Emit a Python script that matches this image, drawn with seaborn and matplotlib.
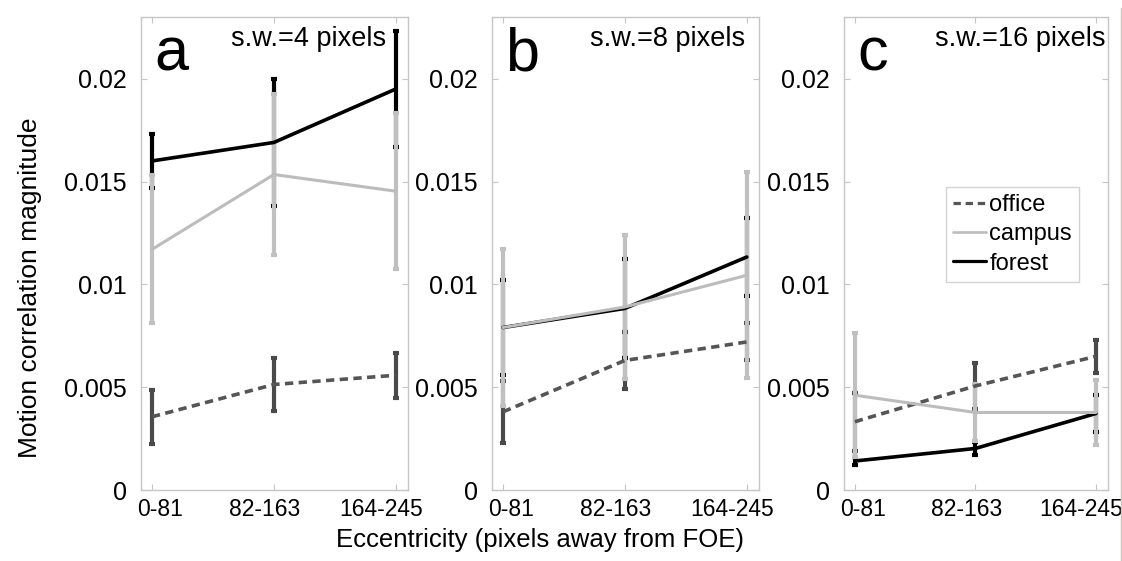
import numpy as np
import pandas as pd
import matplotlib
matplotlib.use("Agg")
import matplotlib.pyplot as plt
from matplotlib.lines import Line2D
from matplotlib.transforms import ScaledTranslation
import seaborn as sns

# ---------------- data ----------------
ecc_labels = ["0-81", "82-163", "164-245"]
panel_letters = ["a", "b", "c"]
panel_titles = ["s.w.=4 pixels", "s.w.=8 pixels", "s.w.=16 pixels"]
scenes = ["office", "campus", "forest"]

office_mean = [[0.00356, 0.00513, 0.00558], [0.0038, 0.0063, 0.0072], [0.00332, 0.00506, 0.0065]]
office_err = [[0.0013, 0.0013, 0.0011], [0.0015, 0.0014, 0.0009], [0.0014, 0.0011, 0.0008]]
campus_mean = [[0.0117, 0.01534, 0.01453], [0.0079, 0.0089, 0.01044], [0.00461, 0.00377, 0.00377]]
campus_err = [[0.0036, 0.0039, 0.0038], [0.0038, 0.0035, 0.0050], [0.0030, 0.0014, 0.0016]]
forest_mean = [[0.0160, 0.0169, 0.0195], [0.0079, 0.00883, 0.01133], [0.00141, 0.00202, 0.00372]]
forest_err = [[0.0013, 0.0031, 0.0028], [0.0023, 0.0024, 0.0019], [0.0002, 0.0003, 0.0009]]

yticks = [0, 0.005, 0.01, 0.015, 0.02]
ytick_labels = ["0", "0.005", "0.01", "0.015", "0.02"]

# ---------------- style ----------------
sns.set_style("white")
plt.rcParams["font.family"] = ["Liberation Sans", "DejaVu Sans"]
plt.rcParams["text.color"] = "black"
plt.rcParams["axes.labelcolor"] = "black"
plt.rcParams["xtick.labelcolor"] = "black"
plt.rcParams["ytick.labelcolor"] = "black"

line_style = {
    "office": dict(color="#555555", lw=2.6, dashes=(2.3, 1.5)),
    "campus": dict(color="#bcbcbc", lw=2.2, dashes=None),
    "forest": dict(color="#000000", lw=2.6, dashes=None),
}
err_style = {
    "office": dict(color="#4a4a4a", lw=3.0),
    "campus": dict(color="#c0c0c0", lw=3.0),
    "forest": dict(color="#000000", lw=3.0),
}

means = {"office": office_mean, "campus": campus_mean, "forest": forest_mean}
errs = {"office": office_err, "campus": campus_err, "forest": forest_err}

rows = []
for p in range(3):
    for s in scenes:
        for i, lab in enumerate(ecc_labels):
            rows.append(dict(panel=p, scene=s, x=i + 1, ecc=lab,
                             mean=means[s][p][i], err=errs[s][p][i]))
df = pd.DataFrame(rows)

fig = plt.figure(figsize=(11.22, 5.61), dpi=100)
W, H = 1122, 561
boxes = [(141, 408), (492, 759), (844, 1108)]
top_px, bot_px = 17, 490
title_x = [0.918, 0.948, 0.989]
label_dx = [8, -9, -15]  # pixel shifts of the x tick labels, as in the reference

spine_col = "#c6c6c6"
for p, (l, r) in enumerate(boxes):
    ax = fig.add_axes([l / W, 1 - bot_px / H, (r - l) / W, (bot_px - top_px) / H])
    sub = df[df.panel == p]
    # error bars
    for s in ["forest", "office", "campus"]:
        d = sub[sub.scene == s]
        ax.errorbar(d["x"], d["mean"], yerr=d["err"], fmt="none",
                    ecolor=err_style[s]["color"], elinewidth=err_style[s]["lw"],
                    capsize=2, capthick=err_style[s]["lw"], zorder=2)
    # lines
    for s in ["office", "forest", "campus"]:
        d = sub[sub.scene == s]
        st = line_style[s]
        kw = dict(color=st["color"], lw=st["lw"])
        if st["dashes"] is not None:
            kw["dashes"] = st["dashes"]
        sns.lineplot(data=d, x="x", y="mean", ax=ax, zorder=3, legend=False,
                     errorbar=None, **kw)
    ax.set_xlim(0.91, 3.1)
    ax.set_ylim(0, 0.023)
    ax.set_xticks([1, 2, 3])
    ax.set_xticklabels(ecc_labels, fontsize=16.5, color="black")
    ax.set_yticks(yticks)
    ax.set_yticklabels(ytick_labels, fontsize=18, color="black")
    ax.set_xlabel("")
    ax.set_ylabel("")
    ax.tick_params(axis="both", direction="in", length=4, width=0.8, color=spine_col,
                   labelcolor="black", top=True, right=True, left=True, bottom=True)
    ax.tick_params(axis="x", pad=6)
    ax.tick_params(axis="y", pad=10)
    for lab, dx in zip(ax.get_xticklabels(), label_dx):
        lab.set_transform(lab.get_transform() + ScaledTranslation(dx / 100, 0, fig.dpi_scale_trans))
    for sp in ax.spines.values():
        sp.set_visible(True)
        sp.set_color(spine_col)
        sp.set_linewidth(1.0)
    ax.text(0.05, 0.886, panel_letters[p], transform=ax.transAxes, fontsize=44,
            ha="left", va="baseline", color="black")
    ax.text(title_x[p], 0.939, panel_titles[p], transform=ax.transAxes, fontsize=19.5,
            ha="right", va="baseline", color="black")
    if p == 2:
        handles = [Line2D([], [], color=line_style[s]["color"], lw=line_style[s]["lw"] - 0.3,
                          linestyle=(0, line_style[s]["dashes"]) if line_style[s]["dashes"] else "-")
                   for s in scenes]
        leg = ax.legend(handles, scenes, loc="upper left", bbox_to_anchor=(0.385, 0.64),
                        fontsize=17, frameon=True, fancybox=False, handlelength=1.4,
                        handletextpad=0.15, labelspacing=0.3, borderpad=0.3,
                        borderaxespad=0, labelcolor="black")
        leg.get_frame().set_edgecolor("#c8c8c8")
        leg.get_frame().set_linewidth(1.0)

fig.text(540 / W, 1 - 540 / H, "Eccentricity (pixels away from FOE)", fontsize=18.5,
         ha="center", va="center", color="black")
fig.text(30 / W, 1 - 288 / H, "Motion correlation magnitude", fontsize=19,
         ha="center", va="center", rotation=90, color="black")
fig.add_artist(Line2D([1120.5 / W, 1120.5 / W], [0, 1 - 8 / H], color="#f2b6b6", lw=1.0))

fig.savefig("out.png", dpi=100)
